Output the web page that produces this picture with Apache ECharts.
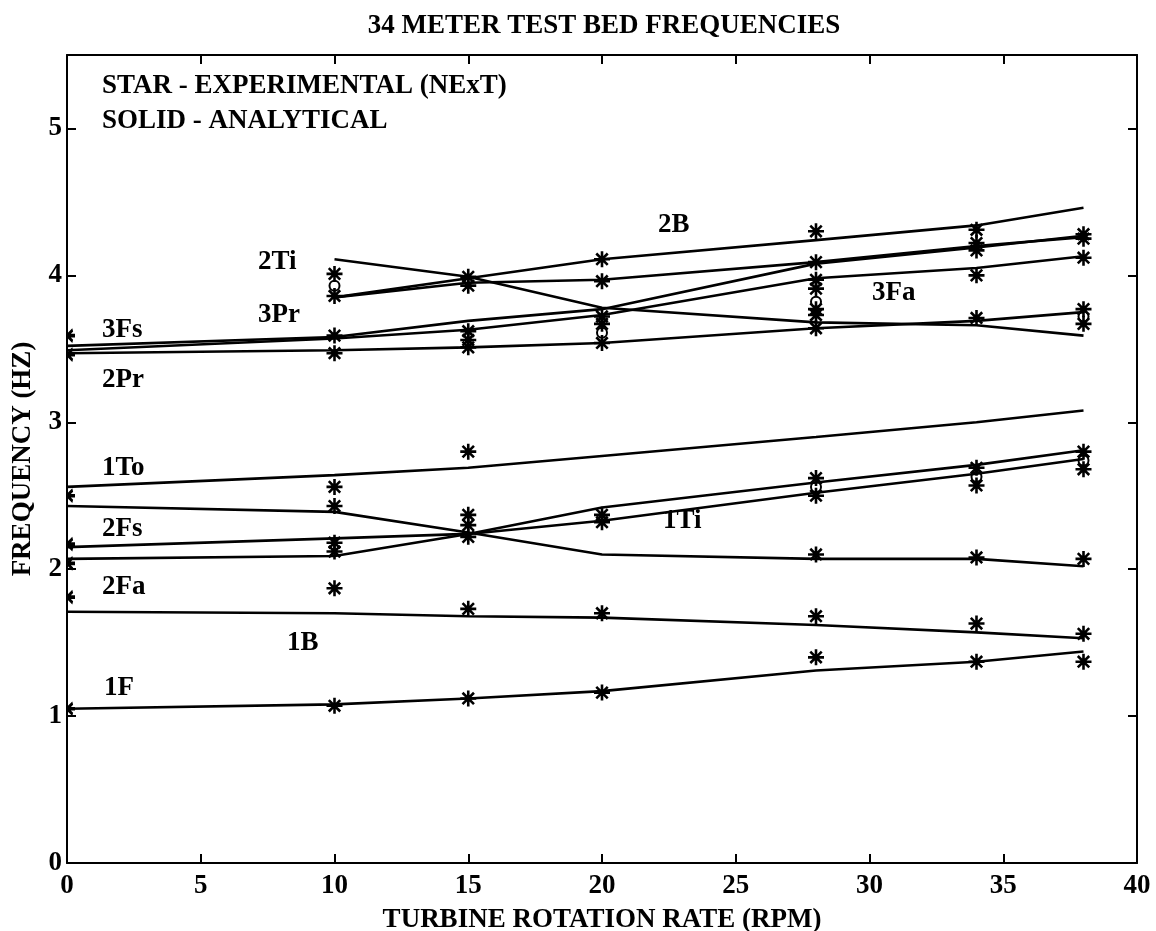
<!DOCTYPE html>
<html>
<head>
<meta charset="utf-8">
<script src="https://cdn.jsdelivr.net/npm/echarts@6/dist/echarts.min.js"></script>
<style>
html,body{margin:0;padding:0;background:#fff;}
#chart{width:1156px;height:931px;}
</style>
</head>
<body>
<div id="chart"></div>
<script>
// ---- data ----
const rpm = [0, 10, 15, 20, 28, 34, 38];

// analytical (solid lines), values at each rpm (null = not computed)
const m2B  = [null, 3.85, 3.98, 4.11, 4.24, 4.34, 4.46];
const m3Fa = [null, 3.85, 3.95, 3.97, 4.09, 4.20, 4.26];
const m2Ti = [null, 4.11, 3.99, 3.78, 3.68, 3.66, 3.59];
const m3Fs = [3.52, 3.58, 3.69, 3.77, 4.08, 4.19, 4.27];
const m3Pr = [3.49, 3.57, 3.63, 3.73, 3.98, 4.05, 4.13];
const m2Pr = [3.47, 3.49, 3.51, 3.54, 3.64, 3.69, 3.75];
const m1To = [2.56, 2.64, 2.69, 2.77, 2.90, 3.00, 3.08];
const m1Ti = [2.43, 2.39, 2.25, 2.10, 2.07, 2.07, 2.02];
const m2Fs = [2.15, 2.21, 2.24, 2.33, 2.52, 2.65, 2.75];
const m2Fa = [2.07, 2.09, 2.24, 2.42, 2.59, 2.71, 2.81];
const m1B  = [1.71, 1.70, 1.68, 1.67, 1.62, 1.57, 1.53];
const m1F  = [1.05, 1.08, 1.12, 1.17, 1.31, 1.37, 1.44];

// experimental (stars), grouped by rpm
const expRpm = [0, 10, 15, 20, 28, 34, 38];
const expFreq = [
  [3.59, 3.46, 2.50, 2.17, 2.04, 1.81, 1.05],
  [4.01, 3.86, 3.59, 3.47, 2.56, 2.43, 2.18, 2.12, 1.87, 1.07],
  [3.99, 3.93, 3.62, 3.56, 3.51, 2.80, 2.37, 2.30, 2.22, 1.73, 1.12],
  [4.11, 3.96, 3.72, 3.67, 3.54, 2.37, 2.32, 1.70, 1.16],
  [4.30, 4.09, 3.97, 3.91, 3.77, 3.73, 3.64, 2.62, 2.50, 2.10, 1.68, 1.40],
  [4.31, 4.22, 4.17, 4.00, 3.71, 2.69, 2.57, 2.08, 1.63, 1.37],
  [4.28, 4.25, 4.12, 3.77, 3.67, 2.80, 2.68, 2.07, 1.56, 1.37]
];
// small circles
const circRpm  = [10, 20, 28, 38, 28, 34, 38];
const circFreq = [3.93, 3.61, 3.82, 3.72, 2.56, 2.63, 2.74];

// text annotations: [rpm, freq, text]
const notes = [
  [1.31, 5.29, 'STAR - EXPERIMENTAL (NExT)'],
  [1.31, 5.05, 'SOLID - ANALYTICAL'],
  [7.14, 4.09, '2Ti'],
  [7.14, 3.73, '3Pr'],
  [1.31, 3.63, '3Fs'],
  [1.31, 3.29, '2Pr'],
  [1.31, 2.69, '1To'],
  [1.31, 2.27, '2Fs'],
  [1.31, 1.88, '2Fa'],
  [8.22, 1.50, '1B'],
  [1.38, 1.19, '1F'],
  [22.09, 4.34, '2B'],
  [30.09, 3.88, '3Fa'],
  [22.28, 2.33, '1Ti']
];

const xTicks = [0, 5, 10, 15, 20, 25, 30, 35, 40];
const yTicks = [0, 1, 2, 3, 4, 5];

// ---- chart ----
const FONT = 'Liberation Serif';
const chart = echarts.init(document.getElementById('chart'));

const lines = {m2B, m3Fa, m2Ti, m3Fs, m3Pr, m2Pr, m1To, m1Ti, m2Fs, m2Fa, m1B, m1F};
const lineSeries = Object.keys(lines).map(k => ({
  name: k, type: 'line', symbol: 'none', silent: true,
  lineStyle: {color: '#000', width: 2.6},
  data: rpm.map((x, i) => [x, lines[k][i]]).filter(p => p[1] !== null),
  z: 3
}));

const STAR = 'path://M0,-7 L0,7 M-7,0 L7,0 M-5,-5 L5,5 M-5,5 L5,-5';
const HALF = 'path://M0,-7 L0,7 M0,0 L7,0 M0,0 L5,-5 M0,0 L5,5';

const fullStars = [], halfStars = [];
expRpm.forEach((x, i) => expFreq[i].forEach(f => (x === 0 ? halfStars : fullStars).push([x, f])));

const axisCommon = {
  axisLine: {show: true, onZero: false, lineStyle: {color: '#000', width: 2}},
  axisTick: {show: true, inside: true, length: 9, lineStyle: {color: '#000', width: 2}},
  splitLine: {show: false}
};
const markStyle = {color: 'rgba(0,0,0,0)', borderColor: '#000', borderWidth: 2.6, opacity: 1};

chart.setOption({
  animation: false,
  backgroundColor: '#fff',
  grid: {left: 67, right: 19, top: 55, bottom: 68, containLabel: false, outerBoundsMode: 'none'},
  graphic: [{
    type: 'text', x: 604, y: 13,
    style: {text: '34 METER TEST BED FREQUENCIES', font: 'bold 27px "Liberation Serif"',
            fill: '#000', align: 'center', textAlign: 'center', verticalAlign: 'top', textVerticalAlign: 'top'}
  }],
  xAxis: [
    Object.assign({
      type: 'value', position: 'bottom', min: xTicks[0], max: xTicks[xTicks.length - 1], interval: 5,
      name: 'TURBINE ROTATION RATE (RPM)', nameLocation: 'middle', nameGap: 44,
      nameTextStyle: {fontFamily: FONT, fontWeight: 'bold', fontSize: 27, color: '#000'},
      axisLabel: {fontFamily: FONT, fontWeight: 'bold', fontSize: 27, color: '#000', margin: 10}
    }, axisCommon),
    Object.assign({
      type: 'value', position: 'top', min: 0, max: 40, interval: 5,
      axisLabel: {show: false}
    }, axisCommon)
  ],
  yAxis: [
    Object.assign({
      type: 'value', position: 'left', min: yTicks[0], max: 5.5, interval: 1,
      name: 'FREQUENCY (HZ)', nameLocation: 'middle', nameGap: 30, nameRotate: 90,
      nameTextStyle: {fontFamily: FONT, fontWeight: 'bold', fontSize: 27, color: '#000'},
      axisLabel: {fontFamily: FONT, fontWeight: 'bold', fontSize: 27, color: '#000', margin: 5,
        formatter: v => (yTicks.indexOf(v) >= 0 ? String(v) : '')}
    }, axisCommon),
    Object.assign({
      type: 'value', position: 'right', min: 0, max: 5.5, interval: 1,
      axisLabel: {show: false}
    }, axisCommon)
  ],
  series: lineSeries.concat([
    {
      name: 'exp', type: 'scatter', symbol: STAR, symbolSize: 16, silent: true,
      itemStyle: markStyle, data: fullStars, z: 4
    },
    {
      name: 'expHalf', type: 'scatter', symbol: HALF, symbolSize: [8, 16], symbolOffset: [4, 0], silent: true,
      itemStyle: markStyle, data: halfStars, z: 4
    },
    {
      name: 'circ', type: 'scatter', symbol: 'circle', symbolSize: 10, silent: true,
      itemStyle: {color: 'rgba(0,0,0,0)', borderColor: '#000', borderWidth: 2, opacity: 1},
      data: circRpm.map((x, i) => [x, circFreq[i]]), z: 4
    },
    {
      name: 'notes', type: 'scatter', symbolSize: 0, silent: true,
      itemStyle: {opacity: 1},
      data: notes.map(n => ({value: [n[0], n[1]], name: n[2]})),
      label: {show: true, position: 'right', distance: 0, formatter: p => p.name, opacity: 1,
        fontFamily: FONT, fontWeight: 'bold', fontSize: 27, color: '#000'},
      z: 5
    }
  ])
});
</script>
</body>
</html>
